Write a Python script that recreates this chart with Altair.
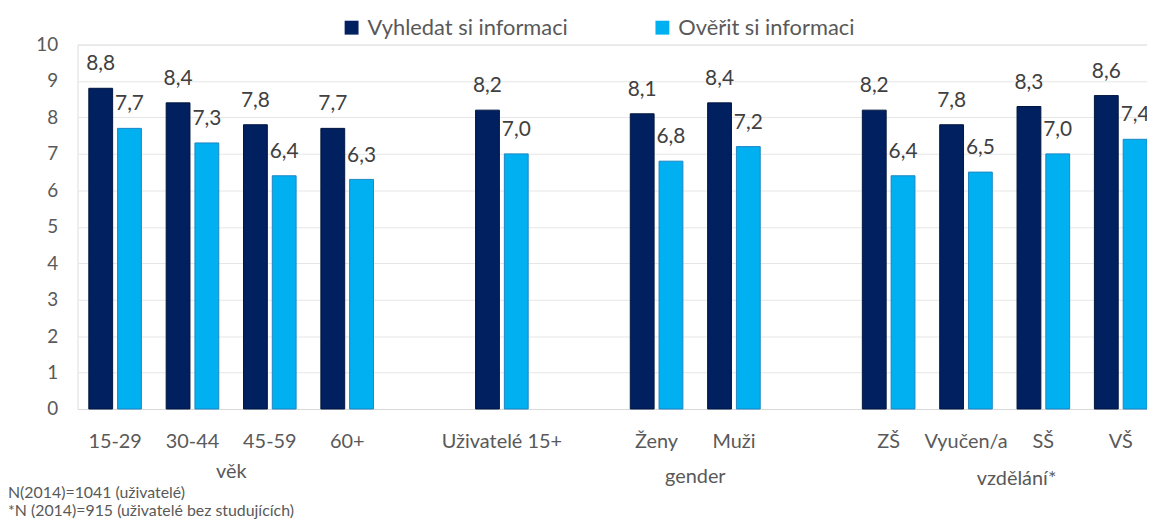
import altair as alt
import pandas as pd

# ---- data ----
categories = ["15-29", "30-44", "45-59", "60+", "Uživatelé 15+", "Ženy", "Muži",
              "ZŠ", "Vyučen/a", "SŠ", "VŠ"]
vyhledat = [8.8, 8.4, 7.8, 7.7, 8.2, 8.1, 8.4, 8.2, 7.8, 8.3, 8.6]
overit = [7.7, 7.3, 6.4, 6.3, 7.0, 6.8, 7.2, 6.4, 6.5, 7.0, 7.4]
series = ["Vyhledat si informaci", "Ověřit si informaci"]
slot_order = ["15-29", "30-44", "45-59", "60+", " ", "Uživatelé 15+", "  ",
              "Ženy", "Muži", "   ", "ZŠ", "Vyučen/a", "SŠ", "VŠ"]
group_names = ["věk", "gender", "vzdělání*"]
group_anchor = ["30-44", "Ženy", "SŠ"]
footnotes = ["N(2014)=1041 (uživatelé)", "*N (2014)=915 (uživatelé bez studujících)"]
colors = ["#002060", "#00B0F0"]
outline = ["#00163F", "#1C86C4"]

rows = []
for c, a, b in zip(categories, vyhledat, overit):
    rows.append({"category": c, "series": series[0], "value": a})
    rows.append({"category": c, "series": series[1], "value": b})
df = pd.DataFrame(rows)

FONT = "Lato"
TXT = "#595959"
W, H = 1077, 367

xscale = alt.Scale(domain=slot_order, paddingInner=0.32, paddingOuter=0.073, align=1)
xoff = alt.Scale(domain=series, paddingInner=0.172, paddingOuter=0)
yscale = alt.Scale(domain=[0, 10], nice=False)

base = alt.Chart(df).encode(
    x=alt.X("category:N", scale=xscale, sort=slot_order,
            axis=alt.Axis(title=None, labelAngle=0, labelFontSize=20, labelColor=TXT,
                          labelFont=FONT, labelPadding=23, ticks=False,
                          domainColor="#D9D9D9", grid=False, labelLimit=300)),
    xOffset=alt.XOffset("series:N", scale=xoff, sort=series),
    y=alt.Y("value:Q", scale=yscale,
            axis=alt.Axis(title=None, values=list(range(11)), labelFontSize=19,
                          labelColor=TXT, labelFont=FONT, labelPadding=20,
                          ticks=False, domain=False, gridColor="#E6E6E6")),
)

bars = base.mark_bar(strokeWidth=1).encode(
    color=alt.Color("series:N", scale=alt.Scale(domain=series, range=colors), sort=series,
                    legend=alt.Legend(title=None, orient="none", direction="horizontal",
                                      legendX=265, legendY=-28, symbolType="square",
                                      symbolSize=196, symbolStrokeWidth=0,
                                      labelFontSize=22, labelFont=FONT, labelColor=TXT,
                                      labelOffset=5, columnPadding=84, labelLimit=400,
                                      padding=0)),
    stroke=alt.Stroke("series:N", scale=alt.Scale(domain=series, range=outline), legend=None),
)

labels = base.transform_calculate(
    lab="replace(format(datum.value, '.1f'), '.', ',')"
).mark_text(dy=-18, baseline="alphabetic", fontSize=21, font=FONT, color="#404040").encode(
    text="lab:N"
)

layers = [bars, labels]

group_dx = [39, 39, -27]
group_y = [436, 442, 444]
for name, anchor, dx, gy in zip(group_names, group_anchor, group_dx, group_y):
    gdf = pd.DataFrame({"category": [anchor], "name": [name]})
    layers.append(
        alt.Chart(gdf).mark_text(dx=dx, baseline="alphabetic", fontSize=20, font=FONT,
                                 color=TXT).encode(
            x=alt.X("category:N", scale=xscale, sort=slot_order),
            y=alt.value(gy),
            text="name:N",
        )
    )

fdf = pd.DataFrame({"t": ["\n".join(footnotes)]})
layers.append(
    alt.Chart(fdf).mark_text(align="left", baseline="alphabetic", lineBreak="\n",
                             lineHeight=18, fontSize=16, font=FONT, color=TXT).encode(
        x=alt.value(-70), y=alt.value(457), text="t:N"
    )
)

chart = alt.layer(*layers).properties(
    width=W, height=H,
    autosize=alt.AutoSizeParams(type="none"),
    padding={"left": 70, "top": 35, "right": 0, "bottom": 113},
).configure_view(stroke=None).configure(font=FONT)

chart.save("out.html", embed_options={"renderer": "svg", "actions": False})
